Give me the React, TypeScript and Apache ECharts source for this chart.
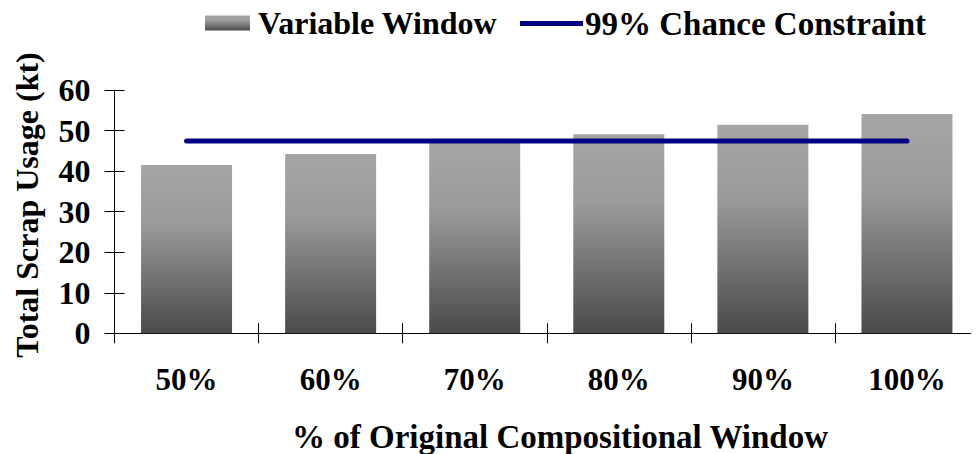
import React, { useEffect, useRef } from "react";
import * as echarts from "echarts";

const categories = ["50%", "60%", "70%", "80%", "90%", "100%"];
const variableWindow = [41.5, 44.2, 47.0, 49.1, 51.4, 54.1];
const chanceConstraint = [47.4, 47.4, 47.4, 47.4, 47.4, 47.4];
const yMin = 0;
const yMax = 60;
const yInterval = 10;

const FONT = "'Liberation Serif', 'Times New Roman', serif";

export default function App() {
  const ref = useRef<HTMLDivElement>(null);
  useEffect(() => {
    if (!ref.current) return;
    const chart = echarts.init(ref.current, null, { renderer: "svg" });
    const barGrad = new echarts.graphic.LinearGradient(0, 0, 0, 1, [
      { offset: 0, color: "#a6a6a6" },
      { offset: 0.35, color: "#9a9a9a" },
      { offset: 1, color: "#4a4a4a" },
    ]);
    const tickStyle = { color: "#000", width: 1 };
    chart.setOption({
      animation: false,
      backgroundColor: "#fff",
      textStyle: { fontFamily: FONT },
      grid: { left: 114.5, top: 90, width: 868, height: 243.3, containLabel: false },
      legend: [
        {
          data: [{ name: "Variable Window", icon: "rect" }],
          left: 200,
          top: 2,
          itemWidth: 45,
          itemHeight: 15,
          itemGap: 0,
          textStyle: { fontFamily: FONT, fontWeight: "bold", fontSize: 32, color: "#000", padding: [0, 0, 0, 3] },
        },
        {
          data: [{ name: "99% Chance Constraint", icon: "rect", itemStyle: { color: "#000080" } }],
          left: 515,
          top: 2,
          itemWidth: 63,
          itemHeight: 5,
          itemGap: 0,
          textStyle: { fontFamily: FONT, fontWeight: "bold", fontSize: 33, color: "#000", padding: [0, 0, 0, -3] },
        },
      ],
      xAxis: [
        {
          type: "category",
          data: categories,
          position: "bottom",
          axisLine: { show: true, lineStyle: { color: "#000", width: 1 } },
          axisTick: { show: true, length: 10, inside: false, lineStyle: tickStyle },
          axisLabel: { fontFamily: FONT, fontWeight: "bold", fontSize: 31, color: "#000", margin: 31 },
          splitLine: { show: false },
        },
        {
          type: "category",
          data: categories,
          position: "bottom",
          axisLine: { show: false },
          axisTick: { show: true, length: 10, inside: true, lineStyle: tickStyle },
          axisLabel: { show: false },
          splitLine: { show: false },
        },
      ],
      yAxis: [
        {
          type: "value",
          min: yMin,
          max: yMax,
          interval: yInterval,
          position: "left",
          axisLine: { show: true, lineStyle: { color: "#000", width: 1 } },
          axisTick: { show: true, length: 10, inside: false, lineStyle: tickStyle },
          axisLabel: { fontFamily: FONT, fontWeight: "bold", fontSize: 32, color: "#000", margin: 24 },
          splitLine: { show: false },
        },
        {
          type: "value",
          min: yMin,
          max: yMax,
          interval: yInterval,
          position: "left",
          axisLine: { show: false },
          axisTick: { show: true, length: 10, inside: true, lineStyle: tickStyle },
          axisLabel: { show: false },
          splitLine: { show: false },
        },
      ],
      graphic: [
        {
          type: "text",
          x: 27,
          y: 205,
          rotation: Math.PI / 2,
          style: {
            text: "Total Scrap Usage (kt)",
            fontFamily: FONT,
            fontWeight: "bold",
            fontSize: 32,
            fill: "#000",
            align: "center",
            verticalAlign: "middle",
          },
        },
        {
          type: "text",
          x: 560,
          y: 437,
          style: {
            text: "% of Original Compositional Window",
            fontFamily: FONT,
            fontWeight: "bold",
            fontSize: 33,
            fill: "#000",
            align: "center",
            verticalAlign: "middle",
          },
        },
      ],
      series: [
        {
          name: "Variable Window",
          type: "bar",
          data: variableWindow,
          barWidth: 91,
          itemStyle: { color: barGrad },
          xAxisIndex: 0,
          yAxisIndex: 0,
        },
        {
          name: "99% Chance Constraint",
          type: "line",
          data: chanceConstraint,
          symbol: "none",
          lineStyle: { color: "#000080", width: 5, cap: "round" },
          itemStyle: { color: "#000080" },
          xAxisIndex: 0,
          yAxisIndex: 0,
        },
      ],
    });
    return () => chart.dispose();
  }, []);
  return <div ref={ref} style={{ width: 979, height: 454, marginLeft: -8, marginTop: -8 }} />;
}
